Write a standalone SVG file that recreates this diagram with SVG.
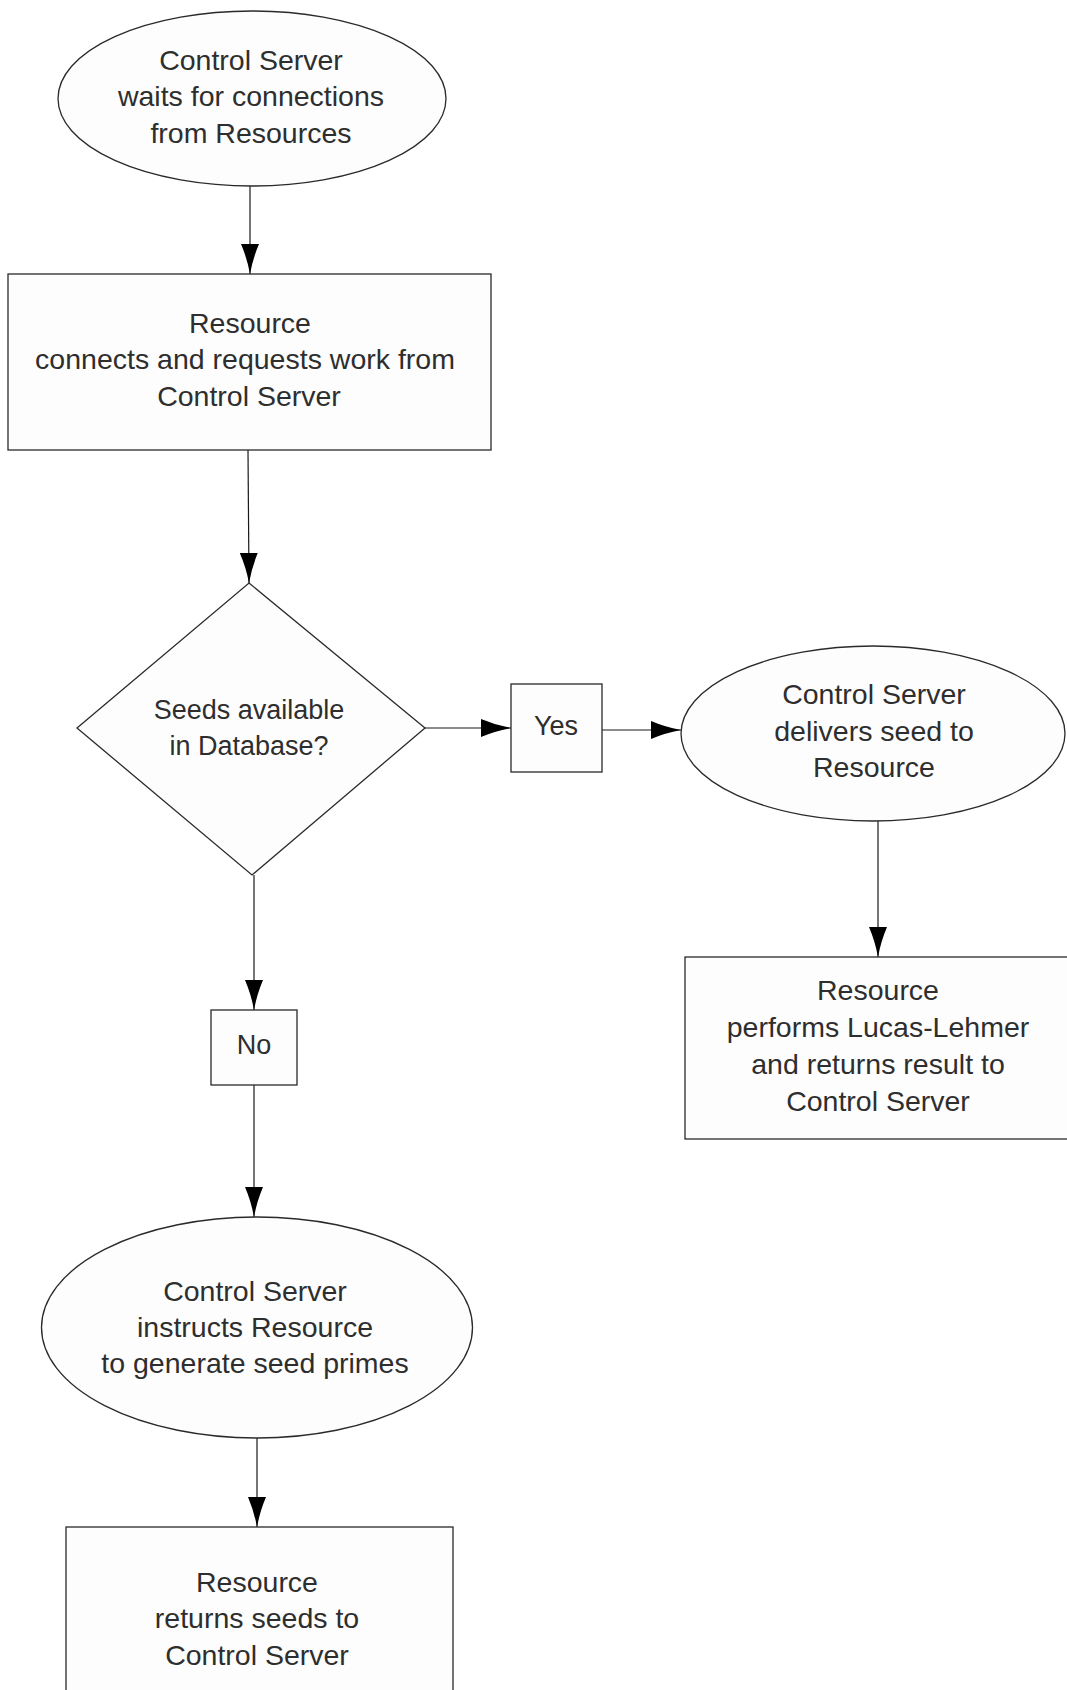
<svg xmlns="http://www.w3.org/2000/svg" width="1067" height="1690" viewBox="0 0 1067 1690">
<defs>
<style>
.shape{fill:#fdfdfd;stroke:#2a2a2a;stroke-width:1.3}
.t{font-family:"Liberation Sans",Arial,sans-serif;font-size:28.5px;fill:#2e2e2e;text-anchor:middle}
.d{font-size:27px}
.edge{stroke:#1a1a1a;stroke-width:1.2;fill:none;marker-end:url(#ah)}
</style>
<marker id="ah" viewBox="0 0 30 18" refX="30" refY="9" markerWidth="30" markerHeight="18" markerUnits="userSpaceOnUse" orient="auto">
<path d="M0,0 Q14,6 30,9 Q14,12 0,18 z" fill="#000"/>
</marker>
</defs>
<rect width="1067" height="1690" fill="#ffffff"/>
<g id="connectors">
<line class="edge" x1="250" y1="186" x2="250" y2="274"/>
<line class="edge" x1="248" y1="450" x2="249" y2="583"/>
<line class="edge" x1="425" y1="728" x2="511" y2="728"/>
<line class="edge" x1="602" y1="730" x2="681" y2="730"/>
<line class="edge" x1="878" y1="821" x2="878" y2="957"/>
<line class="edge" x1="254" y1="875" x2="254" y2="1010"/>
<line class="edge" x1="254" y1="1085" x2="254" y2="1217"/>
<line class="edge" x1="257" y1="1438" x2="257" y2="1527"/>
</g>
<g id="n1">
<ellipse class="shape" cx="252" cy="98.5" rx="194" ry="87.5"/>
<text class="t" x="251" y="70">Control Server</text>
<text class="t" x="251" y="106">waits for connections</text>
<text class="t" x="251" y="143">from Resources</text>
</g>
<g id="n2">
<rect class="shape" x="8" y="274" width="483" height="176"/>
<text class="t" x="250" y="333">Resource</text>
<text class="t" x="245" y="369">connects and requests work from</text>
<text class="t" x="249" y="406">Control Server</text>
</g>
<g id="n3">
<polygon class="shape" points="249,583 425,728 252,875 77,728"/>
<text class="t d" x="249" y="719">Seeds available</text>
<text class="t d" x="249" y="755">in Database?</text>
</g>
<g id="yes">
<rect class="shape" x="511" y="684" width="91" height="88"/>
<text class="t d" x="556" y="735">Yes</text>
</g>
<g id="n5">
<ellipse class="shape" cx="873" cy="733.5" rx="192" ry="87.5"/>
<text class="t" x="874" y="704">Control Server</text>
<text class="t" x="874" y="741">delivers seed to</text>
<text class="t" x="874" y="777">Resource</text>
</g>
<g id="n6">
<rect class="shape" x="685" y="957" width="395" height="182"/>
<text class="t" x="878" y="1000">Resource</text>
<text class="t" x="878" y="1037">performs Lucas-Lehmer</text>
<text class="t" x="878" y="1074">and returns result to</text>
<text class="t" x="878" y="1111">Control Server</text>
</g>
<g id="no">
<rect class="shape" x="211" y="1010" width="86" height="75"/>
<text class="t d" x="254" y="1054">No</text>
</g>
<g id="n8">
<ellipse class="shape" cx="257" cy="1327.5" rx="215.5" ry="110.5"/>
<text class="t" x="255" y="1301">Control Server</text>
<text class="t" x="255" y="1337">instructs Resource</text>
<text class="t" x="255" y="1373">to generate seed primes</text>
</g>
<g id="n9">
<rect class="shape" x="66" y="1527" width="387" height="200"/>
<text class="t" x="257" y="1592">Resource</text>
<text class="t" x="257" y="1628">returns seeds to</text>
<text class="t" x="257" y="1665">Control Server</text>
</g>
</svg>
